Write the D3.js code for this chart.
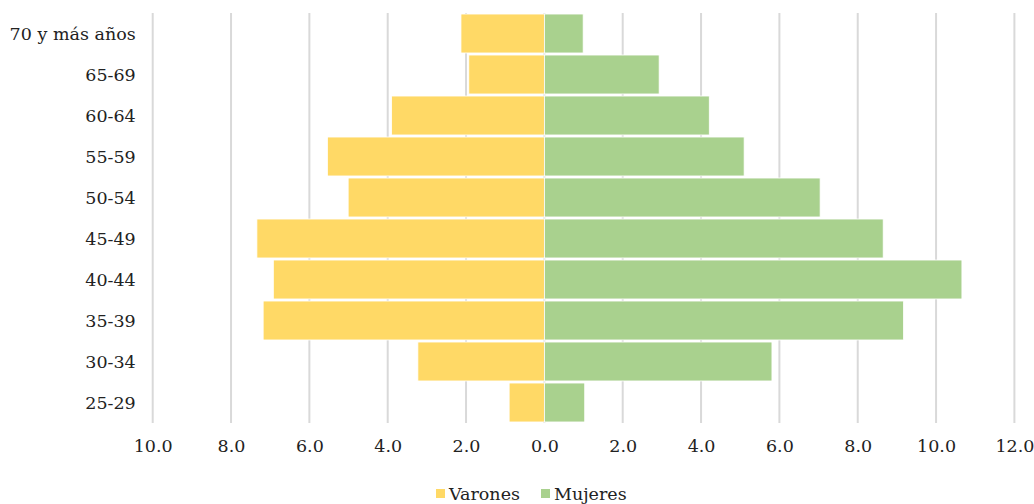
<!DOCTYPE html>
<html>
<head>
<meta charset="utf-8">
<script src="https://cdn.jsdelivr.net/npm/d3@7"></script>
<style>
  html, body { margin: 0; padding: 0; background: #fff; }
  svg { display: block; }
  text { font-family: "DejaVu Serif", "Liberation Serif", serif; fill: #222; }
</style>
</head>
<body>
<svg id="chart" width="1034" height="504"></svg>
<script>
// Age groups, youngest first
const ageGroups = ["25-29", "30-34", "35-39", "40-44", "45-49", "50-54", "55-59", "60-64", "65-69", "70 y más años"];
// Share of each sex by age group (%)
const varones = [0.90, 3.23, 7.18, 6.92, 7.34, 5.01, 5.54, 3.90, 1.93, 2.13];
const mujeres = [1.03, 5.81, 9.17, 10.66, 8.65, 7.04, 5.10, 4.21, 2.93, 0.99];
const xTicks = [-10, -8, -6, -4, -2, 0, 2, 4, 6, 8, 10, 12];
const seriesNames = ["Varones", "Mujeres"];
const seriesColors = ["#FFD966", "#A9D18E"];

const fontSize = "17.5px";
const svg = d3.select("#chart");
const plot = { left: 152.7, right: 1014.4, top: 13, bottom: 423 };

const x = d3.scaleLinear().domain([-10, 12]).range([plot.left, plot.right]);
const y = d3.scaleBand()
  .domain(ageGroups.slice().reverse())
  .range([plot.top, plot.bottom])
  .paddingInner(0.05)
  .paddingOuter(0.025);

// vertical gridlines
svg.append("g")
  .selectAll("line")
  .data(xTicks)
  .join("line")
  .attr("x1", d => x(d)).attr("x2", d => x(d))
  .attr("y1", plot.top).attr("y2", plot.bottom)
  .attr("stroke", "#D9D9D9")
  .attr("stroke-width", 2);

const rows = ageGroups.map((g, i) => ({ g, v: varones[i], m: mujeres[i] }));

// Varones to the left of zero
svg.append("g")
  .selectAll("rect")
  .data(rows)
  .join("rect")
  .attr("x", d => x(-d.v))
  .attr("width", d => x(0) - x(-d.v))
  .attr("y", d => y(d.g))
  .attr("height", y.bandwidth())
  .attr("fill", seriesColors[0])
  .attr("stroke", "#fff")
  .attr("stroke-width", 0.8);

// Mujeres to the right of zero
svg.append("g")
  .selectAll("rect")
  .data(rows)
  .join("rect")
  .attr("x", x(0))
  .attr("width", d => x(d.m) - x(0))
  .attr("y", d => y(d.g))
  .attr("height", y.bandwidth())
  .attr("fill", seriesColors[1])
  .attr("stroke", "#fff")
  .attr("stroke-width", 0.8);

// x axis labels (absolute values)
const xAxis = d3.axisBottom(x)
  .tickValues(xTicks)
  .tickFormat(d => Math.abs(d).toFixed(1))
  .tickSize(0)
  .tickPadding(17);
const gx = svg.append("g")
  .attr("transform", `translate(0,${plot.bottom})`)
  .call(xAxis);
gx.select(".domain").remove();
gx.selectAll("text")
  .style("font-family", '"DejaVu Serif", "Liberation Serif", serif')
  .style("font-size", fontSize)
  .attr("fill", "#222");

// y axis labels
const yAxis = d3.axisLeft(y).tickSize(0).tickPadding(17);
const gy = svg.append("g")
  .attr("transform", `translate(${plot.left},1)`)
  .call(yAxis);
gy.select(".domain").remove();
gy.selectAll("text")
  .style("font-family", '"DejaVu Serif", "Liberation Serif", serif')
  .style("font-size", fontSize)
  .attr("fill", "#222");

// legend
const legend = svg.append("g").attr("transform", "translate(436,494)");
const item = legend.selectAll("g")
  .data(seriesNames)
  .join("g")
  .attr("transform", (d, i) => `translate(${i * 105},0)`);
item.append("rect")
  .attr("x", 0).attr("y", -5)
  .attr("width", 9).attr("height", 9)
  .attr("fill", (d, i) => seriesColors[i]);
item.append("text")
  .attr("x", 13).attr("y", 0)
  .attr("dy", "0.35em")
  .style("font-size", fontSize)
  .text(d => d);
</script>
</body>
</html>
